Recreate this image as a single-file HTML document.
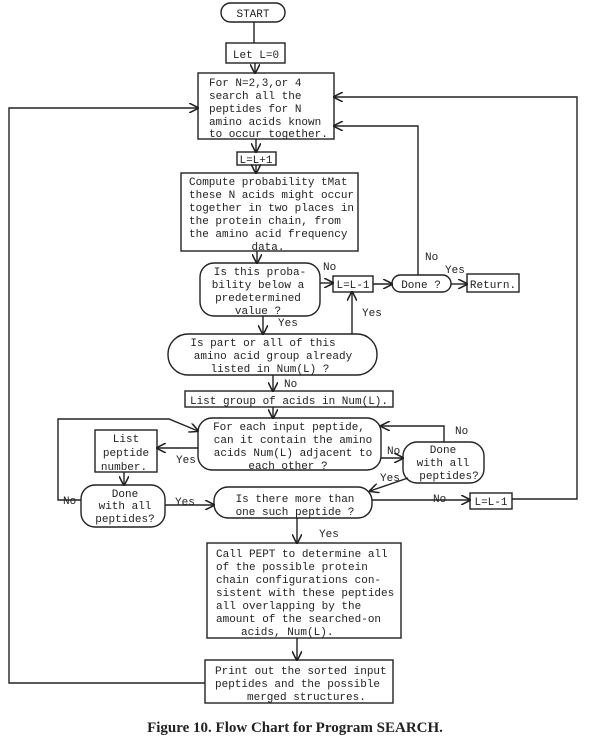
<!DOCTYPE html>
<html><head><meta charset="utf-8"><style>
body{margin:0;background:#fff;}
svg{display:block}
text{font-family:"Liberation Mono",monospace;font-size:11px;fill:#222;}
.c{text-anchor:middle}
</style></head><body>
<svg width="600" height="741" viewBox="0 0 600 741" xmlns="http://www.w3.org/2000/svg">
<defs><marker id="a" viewBox="0 0 10 10" refX="9" refY="5" markerWidth="7" markerHeight="7" orient="auto"><path d="M0,0 L10,5 L0,10" fill="none" stroke="#222" stroke-width="1.6"/></marker></defs>
<g fill="none" stroke="#222" stroke-width="1.4">
<rect x="221" y="3" width="64" height="19" rx="9.5"/>
<rect x="226" y="43" width="59" height="20"/>
<rect x="198" y="73" width="136" height="66"/>
<rect x="237" y="152" width="39" height="13"/>
<rect x="181" y="173" width="177" height="78"/>
<rect x="200" y="263" width="120" height="53" rx="14"/>
<rect x="333" y="276" width="40" height="16"/>
<rect x="392" y="275" width="59" height="17" rx="8.5"/>
<rect x="467" y="274" width="52" height="18"/>
<rect x="168" y="334" width="209" height="41" rx="20"/>
<rect x="185" y="391" width="208" height="16"/>
<rect x="198" y="418" width="183" height="52" rx="14"/>
<rect x="95" y="430" width="62" height="42"/>
<rect x="81" y="485" width="84" height="42" rx="14"/>
<rect x="403" y="442" width="81" height="41" rx="14"/>
<rect x="214" y="487" width="158" height="31" rx="14"/>
<rect x="470" y="493" width="42" height="16"/>
<rect x="207" y="543" width="194" height="95"/>
<rect x="205" y="660" width="188" height="43"/>
<path d="M254 22 V43"/>
<path d="M255 63 V73" marker-end="url(#a)"/>
<path d="M256 139 V152" marker-end="url(#a)"/>
<path d="M256 165 V173" marker-end="url(#a)"/>
<path d="M257 251 V263" marker-end="url(#a)"/>
<path d="M320 283 H333" marker-end="url(#a)"/>
<path d="M373 284 H392" marker-end="url(#a)"/>
<path d="M451 284 H467" marker-end="url(#a)"/>
<path d="M418 275 V126 H334" marker-end="url(#a)"/>
<path d="M352 334 V292" marker-end="url(#a)"/>
<path d="M263 316 V334" marker-end="url(#a)"/>
<path d="M273 375 V391" marker-end="url(#a)"/>
<path d="M273 407 V418" marker-end="url(#a)"/>
<path d="M198 448 H157" marker-end="url(#a)"/>
<path d="M124 472 V485" marker-end="url(#a)"/>
<path d="M81 500 H58 V419 H169 L198 431" marker-end="url(#a)"/>
<path d="M165 505 H214" marker-end="url(#a)"/>
<path d="M381 458 H403" marker-end="url(#a)"/>
<path d="M444 442 V426 H381" marker-end="url(#a)"/>
<path d="M408 478 L370 491" marker-end="url(#a)"/>
<path d="M372 500 H470" marker-end="url(#a)"/>
<path d="M512 499 H577 V97 H334" marker-end="url(#a)"/>
<path d="M297 518 V543" marker-end="url(#a)"/>
<path d="M297 638 V660" marker-end="url(#a)"/>
<path d="M205 683 H9 V108 H198" marker-end="url(#a)"/>
</g>
<text x="253" y="17" class="c">START</text>
<text x="256" y="58" class="c">Let L=0</text>
<text x="209" y="86">For N=2,3,or 4</text>
<text x="209" y="99">search all the</text>
<text x="209" y="112">peptides for N</text>
<text x="209" y="125">amino acids known</text>
<text x="209" y="137">to occur together.</text>
<text x="256" y="163" class="c">L=L+1</text>
<text x="189" y="185">Compute probability tMat</text>
<text x="189" y="198">these N acids might occur</text>
<text x="189" y="211">together in two places in</text>
<text x="189" y="224">the protein chain, from</text>
<text x="189" y="237">the amino acid frequency</text>
<text x="268" y="250" class="c">data.</text>
<text x="260" y="275" class="c">Is this proba-</text>
<text x="258" y="288" class="c">bility below a</text>
<text x="258" y="301" class="c">predetermined</text>
<text x="258" y="314" class="c">value ?</text>
<text x="353" y="288" class="c">L=L-1</text>
<text x="421" y="288" class="c">Done ?</text>
<text x="493" y="288" class="c">Return.</text>
<text x="323" y="270">No</text>
<text x="425" y="260">No</text>
<text x="445" y="273">Yes</text>
<text x="362" y="316">Yes</text>
<text x="278" y="326">Yes</text>
<text x="263" y="346" class="c">Is part or all of this</text>
<text x="273" y="359" class="c">amino acid group already</text>
<text x="270" y="372" class="c">listed in Num(L) ?</text>
<text x="284" y="387">No</text>
<text x="289" y="404" class="c">List group of acids in Num(L).</text>
<text x="289" y="430" class="c">For each input peptide,</text>
<text x="293" y="443" class="c">can it contain the amino</text>
<text x="293" y="456" class="c">acids Num(L) adjacent to</text>
<text x="288" y="469" class="c">each other ?</text>
<text x="126" y="442" class="c">List</text>
<text x="126" y="456" class="c">peptide</text>
<text x="124" y="470" class="c">number.</text>
<text x="176" y="463">Yes</text>
<text x="125" y="497" class="c">Done</text>
<text x="125" y="509" class="c">with all</text>
<text x="125" y="522" class="c">peptides?</text>
<text x="63" y="504">No</text>
<text x="175" y="505">Yes</text>
<text x="443" y="453" class="c">Done</text>
<text x="443" y="466" class="c">with all</text>
<text x="449" y="479" class="c">peptides?</text>
<text x="387" y="454">No</text>
<text x="455" y="434">No</text>
<text x="380" y="481">Yes</text>
<text x="295" y="502" class="c">Is there more than</text>
<text x="295" y="515" class="c">one such peptide ?</text>
<text x="433" y="502">No</text>
<text x="491" y="505" class="c">L=L-1</text>
<text x="319" y="537">Yes</text>
<text x="216" y="557">Call PEPT to determine all</text>
<text x="216" y="570">of the possible protein</text>
<text x="216" y="583">chain configurations con-</text>
<text x="216" y="596">sistent with these peptides</text>
<text x="216" y="609">all overlapping by the</text>
<text x="216" y="622">amount of the searched-on</text>
<text x="241" y="635">acids, Num(L).</text>
<text x="215" y="674">Print out the sorted input</text>
<text x="215" y="687">peptides and the possible</text>
<text x="247" y="700">merged structures.</text>
<text x="295" y="732" class="c" style="font-family:'Liberation Serif',serif;font-size:15px;font-weight:bold;">Figure 10.  Flow Chart for Program SEARCH.</text>
</svg>
</body></html>
